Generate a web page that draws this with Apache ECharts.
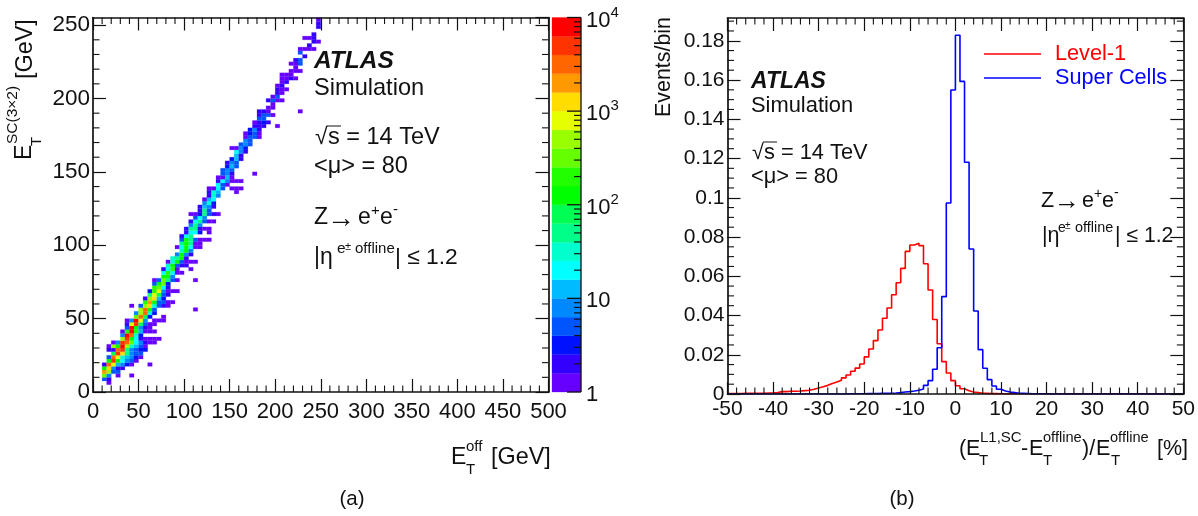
<!DOCTYPE html>
<html><head><meta charset="utf-8">
<style>html,body{margin:0;padding:0;background:#fff}#c{width:1198px;height:516px}</style>
<script src="https://cdn.jsdelivr.net/npm/echarts@6/dist/echarts.min.js"></script>
</head><body><div id="c"></div>
<script>
// ---------- panel (a): 2D histogram. Each row: [yBinIndex, [xBinIndex, colourBand, xBinIndex, colourBand, ...]]
const xBinWidth = 5, yBinWidth = 2.5;
const cellRows = [
[2,[3,0]],
[3,[2,3,3,1]],
[4,[2,12,3,4,5,0,8,0]],
[5,[2,16,3,13,4,3,5,3]],
[6,[2,10,3,15,4,4,5,1,6,1]],
[7,[2,1,3,17,4,14,5,5,6,4,7,2,8,0,12,0]],
[8,[3,10,4,18,5,10,6,6,7,4,8,3,9,0]],
[9,[3,3,4,17,5,14,6,7,7,5,8,4,9,2,10,0]],
[10,[4,9,5,18,6,15,7,8,8,4,9,3,10,3]],
[11,[3,1,4,1,5,17,6,18,7,8,8,4,9,3,10,2,11,2]],
[12,[3,0,4,13,5,10,6,19,7,13,8,7,9,5,10,3,11,0]],
[13,[4,0,5,4,6,18,7,17,8,12,9,6,10,4,11,1,12,0,13,0]],
[14,[6,13,7,18,8,10,9,6,10,1,11,0,12,0,13,0,14,0]],
[15,[6,4,7,19,8,17,9,7,10,2]],
[16,[6,0,7,11,8,19,9,11,10,5,11,0,12,0,13,0]],
[17,[7,3,8,19,9,10,10,4,11,1,12,0]],
[18,[7,1,8,14,9,18,10,9,11,3,12,0,13,0]],
[19,[7,0,8,4,9,19,10,14,11,4,13,0,14,0,15,0]],
[20,[9,12,10,17,11,9,12,2,15,0]],
[21,[9,4,10,13,11,17,12,7,13,2]],
[22,[10,13,11,17,12,10,13,3,22,0]],
[23,[8,0,10,3,11,13,12,15,13,7,14,3,15,1,16,0]],
[24,[11,11,12,16,13,10,14,3,15,3,16,0,17,0]],
[25,[11,1,12,13,13,15,14,5,15,2]],
[26,[12,8,13,14,14,9,15,3,16,1]],
[27,[12,2,13,11,14,14,15,4,16,0,17,0,18,0]],
[28,[13,11,14,12,15,6,16,1]],
[29,[13,3,14,10,15,12,16,2]],
[30,[13,0,14,3,15,12,16,8,17,3,18,0,22,0]],
[31,[15,10,16,10,17,4]],
[32,[15,6,16,11,17,6,18,0,19,0]],
[33,[15,1,16,6,17,11,18,0,21,0]],
[34,[16,7,17,10,18,3,19,1,20,1]],
[35,[16,0,17,7,18,10,19,3,20,0,21,0,22,0]],
[36,[17,7,18,8,19,10,20,1]],
[37,[18,4,19,10,20,4,21,1]],
[38,[19,7,20,10,21,4]],
[39,[18,0,19,6,20,10,21,6,22,0,23,0]],
[40,[19,8,20,10,21,8,22,0,23,0]],
[41,[19,3,20,10,21,8,22,3,23,0,24,0,25,0]],
[42,[19,1,20,6,21,8]],
[43,[20,1,21,6,22,6,23,2,25,0]],
[44,[20,1,21,8,22,8,23,1,24,0,25,0]],
[45,[21,4,22,8,23,4]],
[46,[21,1,22,6,23,8,24,3,25,0,26,0]],
[47,[22,3,23,6,24,4]],
[48,[21,0,22,0,23,2,24,8,25,3,26,1,27,0]],
[49,[23,1,24,8,25,3]],
[50,[23,1,24,5,25,4,26,1]],
[51,[24,4,25,7,26,2]],
[52,[24,0,25,5,26,6]],
[53,[25,1,26,7,27,4]],
[54,[25,1,26,7,27,5,31,0]],
[55,[25,0,26,0,27,6,28,3,30,0,31,0,32,0]],
[56,[27,6,28,3,29,0]],
[57,[27,1,28,6,29,4,30,0,31,0,32,0]],
[58,[27,0,28,0,29,5,30,0]],
[59,[28,3,29,4,30,1,35,0]],
[60,[28,3,29,4,30,3]],
[61,[29,2,30,5,31,3]],
[62,[29,1,30,4,31,3]],
[63,[30,2,31,5,32,1]],
[64,[31,5,32,1]],
[65,[31,6,32,4,33,1]],
[66,[30,0,31,0,32,4,33,2]],
[67,[32,3,33,4,34,3]],
[68,[33,4,34,3]],
[69,[33,0,34,3,35,3,36,0]],
[70,[33,0,34,2,35,3,36,0]],
[71,[34,2,35,4,36,1]],
[72,[35,1,36,1,37,1,40,0]],
[73,[35,0,36,1,37,2,38,1]],
[74,[36,3,37,3]],
[75,[36,1,37,3,38,3,39,0]],
[76,[36,1,37,1,38,0,45,0]],
[77,[38,0,39,0]],
[78,[39,0]],
[79,[38,1,39,3,40,0,41,0]],
[80,[39,0,40,3]],
[81,[40,1,41,0]],
[82,[40,1,41,0,42,0]],
[83,[40,0,41,1]],
[84,[41,0,42,1]],
[85,[41,0,42,0,43,1,44,0]],
[86,[41,0,42,0,43,0]],
[87,[43,0,44,0,45,0]],
[88,[44,0]],
[89,[43,0,44,0,45,3]],
[90,[44,1,45,3]],
[91,[46,1]],
[92,[45,3]],
[93,[45,0,46,0,47,0,48,0]],
[94,[47,1]],
[95,[48,1,49,0]],
[96,[46,0,47,0,48,1]],
[97,[48,1]],
[99,[49,1]],
[100,[49,1]],
[101,[49,0]]
];
const bandColors = ['#6600ff','#3300ff','#0011ff','#0055ff','#0088ff','#00bbff','#00ffff','#00ffcc','#00ff88','#00ff55',
 '#00ff00','#22ff00','#66ff00','#99ff00','#e6ff00','#ffdd00','#ff9900','#ff6600','#ff3300','#ff0000'];
const barMinorTicks = [2,3,4,5,6,7,8,9,20,30,40,50,60,70,80,90,200,300,400,500,600,700,800,900,2000,3000,4000,5000,6000,7000,8000,9000];
const barMajorTicks = [1,10,100,1000,10000];
const barMax = 10000;
const aXMinor = [10,20,30,40,60,70,80,90,110,120,130,140,160,170,180,190,210,220,230,240,260,270,280,290,310,320,330,340,360,370,380,390,410,420,430,440,460,470,480,490];
const aYMinor = [10,20,30,40,60,70,80,90,110,120,130,140,160,170,180,190,210,220,230,240];

// ---------- panel (b): 1D histograms, 100 bins of width 1 from -50 to 50
const binEdges = [-50,-49,-48,-47,-46,-45,-44,-43,-42,-41,-40,-39,-38,-37,-36,-35,-34,-33,-32,-31,-30,-29,-28,-27,-26,-25,-24,-23,-22,-21,-20,-19,-18,-17,-16,-15,-14,-13,-12,-11,-10,-9,-8,-7,-6,-5,-4,-3,-2,-1,0,1,2,3,4,5,6,7,8,9,10,11,12,13,14,15,16,17,18,19,20,21,22,23,24,25,26,27,28,29,30,31,32,33,34,35,36,37,38,39,40,41,42,43,44,45,46,47,48,49,50];
const level1Values = [.0002,.0002,.0002,.0003,.0003,.0003,.0004,.0004,.0005,.0006,
 .0008,.0012,.0012,.0014,.0014,.0015,.0017,.0019,.0024,.0031,
 .0037,.0044,.0053,.0061,.0070,.0082,.0097,.0116,.0132,.0153,
 .0189,.0229,.0272,.0326,.0386,.0438,.0506,.0567,.0640,.0727,
 .0759,.0768,.0756,.0664,.0530,.0380,.0256,.0165,.0107,.0068,
 .0042,.0027,.0017,.0010,.0007,.0004,.0003,.0002,.0002,.0001,
 .0001,.0001,.0001,.0001,.0001,.0001,.0001,.0001,.0001,.0001,
 .0001,.0001,.0001,.0001,.0001,.0001,.0001,.0001,.0001,.0001,
 .0001,.0001,.0001,.0001,.0001,.0001,.0001,.0001,.0001,.0001,
 .0001,.0001,.0001,.0001,.0001,.0001,.0001,.0001,.0001,.0001];
const superCellValues = [0,0,0,0,0,0,0,0,0,0,
 0,0,0,0,0,0,0,0,0,0,
 0,0,0,0,0,0,.0001,.0001,.0001,.0001,
 .0002,.0002,.0002,.0003,.0003,.0004,.0005,.0007,.0010,.0012,
 .0015,.0019,.0025,.0044,.0068,.0126,.0236,.0496,.0973,.1549,
 .1828,.1593,.1181,.0739,.0423,.0226,.0131,.0073,.0041,.0024,
 .0015,.0010,.0007,.0004,.0003,.0002,.0001,.0001,.0001,.0001,
 0,0,0,0,0,0,0,0,0,0,
 0,0,0,0,0,0,0,0,0,0,
 0,0,0,0,0,0,0,0,0,0];
const bXMinor = [-48,-46,-44,-42,-38,-36,-34,-32,-28,-26,-24,-22,-18,-16,-14,-12,-8,-6,-4,-2,2,4,6,8,12,14,16,18,22,24,26,28,32,34,36,38,42,44,46,48];
const bYMinor = [.005,.01,.015,.025,.03,.035,.045,.05,.055,.065,.07,.075,.085,.09,.095,.105,.11,.115,.125,.13,.135,.145,.15,.155,.165,.17,.175,.185,.19];
const aXMax = 500, aYMax = 255.2, bYMax = 0.1916;

// ---------- drawing
const chart = echarts.init(document.getElementById('c'), null, {renderer:'canvas'});
const FONT = '"Liberation Sans", Arial, sans-serif', INK = '#111';

const stepData = vals => binEdges.map((e,i)=>[e, i<vals.length ? vals[i] : vals[vals.length-1]]);
const cells = [];
cellRows.forEach(([r, pairs])=>{ for(let i=0;i<pairs.length;i+=2) cells.push([pairs[i]*xBinWidth, r*yBinWidth, pairs[i+1]]); });
const barRows = bandColors.map((_,b)=>[Math.pow(10,b/5), Math.pow(10,(b+1)/5), b]);

function minorSeries(xi, yi, values, dim, len){
  return {type:'custom', xAxisIndex:xi, yAxisIndex:yi, silent:true, clip:false, z:30,
    encode: {x:0,y:1},
    data: values.map(v=>dim==='x'?[v,yi===0?10:0.01]:[xi===0?10:0,v]),
    renderItem(p, api){
      const cs=p.coordSys, c=api.coord([api.value(0),api.value(1)]);
      const st={stroke:'#111',lineWidth:1.1};
      const kids=[];
      if(dim==='x'){
        kids.push({type:'line',shape:{x1:c[0],y1:cs.y+cs.height,x2:c[0],y2:cs.y+cs.height-len},style:st});
        kids.push({type:'line',shape:{x1:c[0],y1:cs.y,x2:c[0],y2:cs.y+len},style:st});
      }else{
        kids.push({type:'line',shape:{x1:cs.x+cs.width,y1:c[1],x2:cs.x+cs.width-len,y2:c[1]},style:st});
        kids.push({type:'line',shape:{x1:cs.x,y1:c[1],x2:cs.x+len,y2:c[1]},style:st});
      }
      return {type:'group',children:kids};
    }};
}
function valAxis(over){
  return Object.assign({type:'value',z:9,splitLine:{show:false},
    axisLine:{show:true,onZero:false,lineStyle:{color:INK,width:1.7}},
    axisTick:{show:true,inside:true,length:13,lineStyle:{color:INK,width:1.2}},
    minorTick:{show:false},
    axisLabel:{show:true,color:'#111',fontFamily:FONT,fontSize:22,margin:4,showMinLabel:true,showMaxLabel:false}},over);
}
const noLab={show:false};

const txt=[];
function t(x,y,s,size,o){o=o||{};txt.push({type:'text',x,y,rotation:o.rot||0,silent:true,z:20,
  style:{text:s,x:0,y:0,fontSize:size,fontFamily:FONT,fontWeight:o.w||'normal',fontStyle:o.i||'normal',
  fill:o.c||'#111',align:o.a||'left',verticalAlign:'middle'}});}
function bar(x1,y1,x2,y2,w){txt.push({type:'line',silent:true,z:20,shape:{x1,y1,x2,y2},style:{stroke:'#111',lineWidth:w||1}});}
const U=Math.PI/2;
// panel (a) annotation
t(314,61,'ATLAS',24.5,{w:'bold',i:'italic'});
t(314,88,'Simulation',23.6);
t(315,138,'√',23); t(328,138,'s = 14 TeV',23.5); bar(327,126,341,126);
t(314,167,'<μ> = 80',23.5);
t(314,218,'Z',23); t(327,219,'→',28); t(358,218,'e',23); t(371,211,'+',15); t(380,218,'e',23); t(393,210,'-',15);
t(314,258,'|η',23); t(337,249,'e',15.5); t(345,247,'±',11); t(355,249,'offline',15); t(395,258,'| ≤ 1.2',22.8);
// panel (a) axis names
t(451,458,'E',23); t(466,470,'T',15); t(466,447,'off',15); t(491,458,'[GeV]',23.4);
t(25,160,'E',23,{rot:U}); t(37,146,'T',15,{rot:U}); t(13,144,'SC(3×2)',15.5,{rot:U}); t(26,79,'[GeV]',23.4,{rot:U});
t(352,499,'(a)',20.5,{a:'center'});
// panel (b) annotation
t(751,82,'ATLAS',23,{w:'bold',i:'italic'});
t(751,106,'Simulation',21.9);
t(752,153,'√',21.5); t(764,153,'s = 14 TeV',21.8); bar(763,142,777,142);
t(751,177,'<μ> = 80',21.8);
t(1041,201,'Z',21.5); t(1054,202,'→',26); t(1082,201,'e',21.5); t(1094,194,'+',14); t(1102,201,'e',21.5); t(1114,193,'-',14);
t(1042,236,'|η',21.5); t(1058,228,'e',14); t(1065,226,'±',10); t(1075,228,'offline',14.4); t(1115,236,'| ≤ 1.2',21.2);
t(664,67,'Events/bin',21.4,{rot:U,a:'center'});
t(959,449,'(',21.5); t(966,449,'E',21.5); t(979,461,'T',15); t(980,438,'L1,SC',15);
t(1021,449,'-',21.5); t(1029,449,'E',21.5); t(1043,461,'T',15); t(1043,438,'offline',14.6);
t(1082,449,')/',21.5); t(1096,449,'E',21.5); t(1111,461,'T',15); t(1110,438,'offline',14.6);
t(1157,449,'[%]',21.5);
t(902,499,'(b)',20.5,{a:'center'});

const option={
  animation:false,
  backgroundColor:'#fff',
  grid:[
    {left:93,top:17.5,width:455.5,height:374.5},
    {left:727.5,top:18,width:458.5,height:376},
    {left:552,top:17.5,width:29,height:374.5}
  ],
  xAxis:[
    valAxis({gridIndex:0,min:0,max:aXMax,interval:50,position:'bottom',axisLabel:{color:'#111',fontFamily:FONT,fontSize:22,margin:9,showMinLabel:true,showMaxLabel:true}}),
    valAxis({gridIndex:0,min:0,max:aXMax,interval:50,position:'top',axisLabel:noLab}),
    valAxis({gridIndex:1,min:-50,max:50,interval:10,position:'bottom',axisTick:{show:true,inside:true,length:12,lineStyle:{color:INK,width:1.2}},axisLabel:{color:'#111',fontFamily:FONT,fontSize:21,margin:5,showMinLabel:true,showMaxLabel:true}}),
    valAxis({gridIndex:1,min:-50,max:50,interval:10,position:'top',axisLabel:noLab}),
    {type:'value',gridIndex:2,min:0,max:1,show:false}
  ],
  yAxis:[
    valAxis({gridIndex:0,min:0,max:aYMax,interval:50,position:'left',axisLabel:{color:'#111',fontFamily:FONT,fontSize:22.5,margin:3,showMinLabel:true,showMaxLabel:false}}),
    valAxis({gridIndex:0,min:0,max:aYMax,interval:50,position:'right',axisLabel:noLab}),
    valAxis({gridIndex:1,min:0,max:bYMax,interval:0.02,position:'left',axisLabel:{color:'#111',fontFamily:FONT,fontSize:21,margin:3,showMinLabel:true,showMaxLabel:false}}),
    valAxis({gridIndex:1,min:0,max:bYMax,interval:0.02,position:'right',axisLabel:noLab}),
    {type:'log',logBase:10,gridIndex:2,min:1,max:barMax,position:'right',splitLine:{show:false},
      axisLine:{show:false,onZero:false},
      axisTick:{show:false},
      minorTick:{show:false},
      axisLabel:{show:true,margin:5,color:'#111',fontFamily:FONT,fontSize:22,
        formatter:v=>{const e=Math.round(Math.log10(v));return e===0?'{m|1}':e===1?'{m|10}':'{m|10}{s|'+e+'}';},
        rich:{m:{fontSize:22,fontFamily:FONT,color:'#111',padding:[6,0,0,0]},
              s:{fontSize:15,fontFamily:FONT,color:'#111',padding:[0,0,10,0]}}}}
  ],
  legend:{left:984,top:42,padding:0,orient:'vertical',itemWidth:57,itemHeight:1.3,itemGap:0,icon:'rect',
    selectedMode:false,
    data:[{name:'Level-1',textStyle:{color:'#ff0000',height:24,lineHeight:24}},{name:'Super Cells',textStyle:{color:'#0000ff',height:24,lineHeight:24}}],
    textStyle:{fontFamily:FONT,fontSize:21.7,padding:[0,0,0,9]}},
  series:[
    {type:'custom',name:'cells',xAxisIndex:0,yAxisIndex:0,silent:true,z:2,data:cells,
      encode:{x:0,y:1},
      renderItem(p,api){
        const a=api.coord([api.value(0),api.value(1)]),b=api.coord([api.value(0)+xBinWidth,api.value(1)+yBinWidth]);
        return {type:'rect',shape:{x:a[0],y:b[1],width:b[0]-a[0],height:a[1]-b[1]},
          style:{fill:bandColors[api.value(2)],stroke:bandColors[api.value(2)],lineWidth:0.2}};
      }},
    {type:'custom',name:'bar',xAxisIndex:4,yAxisIndex:4,silent:true,z:1,data:barRows,
      encode:{y:[0,1]},
      renderItem(p,api){
        const cs=p.coordSys, kind=api.value(2);
        const a=api.coord([0,api.value(0)]),b=api.coord([0,api.value(1)]);
        return {type:'rect',shape:{x:cs.x,y:b[1],width:cs.width,height:a[1]-b[1]},
          style:{fill:bandColors[kind],stroke:bandColors[kind],lineWidth:0.3}};
      }},
    minorSeries(0,0,aXMinor,'x',6.5),
    minorSeries(0,0,aYMinor,'y',6.5),
    minorSeries(2,2,bXMinor,'x',6.5),
    minorSeries(2,2,bYMinor,'y',6.5),
    {type:'line',name:'Level-1',xAxisIndex:2,yAxisIndex:2,step:'end',showSymbol:false,symbol:'none',
      data:stepData(level1Values),lineStyle:{color:'#ff0000',width:1.6},itemStyle:{color:'#ff0000'},z:3},
    {type:'line',name:'Super Cells',xAxisIndex:2,yAxisIndex:2,step:'end',showSymbol:false,symbol:'none',
      data:stepData(superCellValues),lineStyle:{color:'#0000ff',width:1.6},itemStyle:{color:'#0000ff'},z:4}
  ],
  graphic:{elements:txt}
};
chart.setOption(option);
// colour-bar ticks: positions come from the log axis itself
const barRight = 581;
const barY = v => chart.convertToPixel({yAxisIndex:4}, v);
barMinorTicks.forEach(v=>bar(barRight-7,barY(v),barRight,barY(v),1.2));
barMajorTicks.forEach(v=>bar(barRight-14,barY(v),barRight,barY(v),1.3));
bar(barRight,barY(barMax),barRight,barY(1),1.3);
chart.setOption({graphic:{elements:txt}});
</script></body></html>
